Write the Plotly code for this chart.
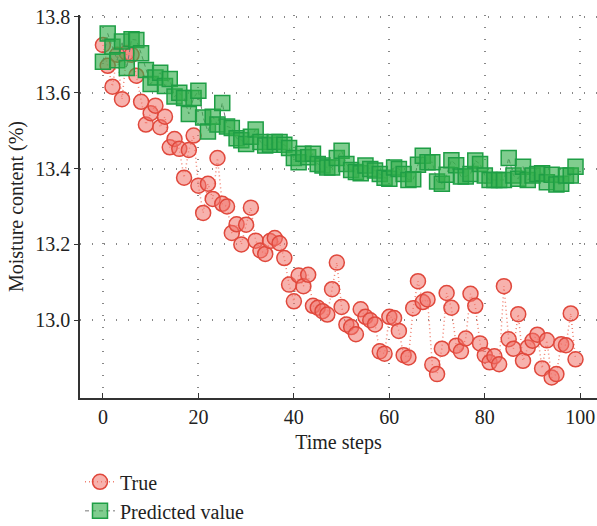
import plotly.graph_objects as go

time_steps = list(range(100))

true_values = [
    13.726, 13.671, 13.616, 13.700, 13.583, 13.705, 13.700, 13.645, 13.576, 13.516,
    13.546, 13.566, 13.509, 13.537, 13.456, 13.478, 13.452, 13.376, 13.449, 13.487,
    13.355, 13.283, 13.360, 13.320, 13.428, 13.307, 13.300, 13.230, 13.253, 13.200,
    13.252, 13.297, 13.210, 13.184, 13.175, 13.209, 13.217, 13.203, 13.164, 13.094,
    13.050, 13.118, 13.090, 13.120, 13.038, 13.033, 13.024, 13.015, 13.082, 13.152,
    13.035, 12.989, 12.982, 12.963, 13.029, 13.009, 13.000, 12.989, 12.918, 12.912,
    13.009, 13.006, 12.972, 12.908, 12.902, 13.032, 13.103, 13.048, 13.055, 12.883,
    12.858, 12.925, 13.072, 13.033, 12.933, 12.918, 12.952, 13.070, 13.038, 12.939,
    12.908, 12.889, 12.905, 12.884, 13.090, 12.950, 12.925, 13.016, 12.893, 12.928,
    12.946, 12.962, 12.873, 12.947, 12.849, 12.858, 12.937, 12.934, 13.018, 12.897,
]

predicted_values = [
    13.682, 13.756, 13.721, 13.686, 13.735, 13.665, 13.741, 13.739, 13.704, 13.660,
    13.623, 13.640, 13.653, 13.618, 13.636, 13.590, 13.600, 13.586, 13.544, 13.586,
    13.605, 13.535, 13.498, 13.537, 13.516, 13.573, 13.511, 13.507, 13.480, 13.475,
    13.465, 13.484, 13.503, 13.470, 13.461, 13.463, 13.470, 13.470, 13.463, 13.454,
    13.428, 13.417, 13.439, 13.430, 13.439, 13.412, 13.408, 13.403, 13.403, 13.428,
    13.447, 13.412, 13.396, 13.391, 13.388, 13.408, 13.399, 13.395, 13.386, 13.376,
    13.373, 13.403, 13.399, 13.386, 13.370, 13.372, 13.410, 13.434, 13.417, 13.417,
    13.366, 13.360, 13.384, 13.422, 13.409, 13.379, 13.379, 13.386, 13.421, 13.412,
    13.382, 13.370, 13.370, 13.370, 13.370, 13.428, 13.382, 13.373, 13.405, 13.370,
    13.382, 13.386, 13.388, 13.364, 13.384, 13.358, 13.360, 13.382, 13.382, 13.405,
]

x_ticks = [0, 20, 40, 60, 80, 100]
y_ticks = [13.0, 13.2, 13.4, 13.6, 13.8]
y_tick_labels = ["13.0", "13.2", "13.4", "13.6", "13.8"]

FONT = "Liberation Serif"

fig = go.Figure()
fig.add_trace(go.Scatter(
    x=time_steps, y=true_values, name="True", mode="lines+markers",
    line=dict(color="#F08070", width=1.5, dash="1px,3px"),
    marker=dict(symbol="circle", size=15, color="rgba(240,115,105,0.55)",
                line=dict(color="#E0483C", width=1.5)),
))
fig.add_trace(go.Scatter(
    x=time_steps, y=predicted_values, name="Predicted value", mode="lines+markers",
    line=dict(color="#777777", width=1, dash="4px,3px"),
    marker=dict(symbol="square", size=15, color="rgba(50,175,75,0.62)",
                line=dict(color="#1E9E45", width=1.5)),
))

grid = dict(showgrid=True, gridcolor="#888888", gridwidth=1.5, griddash="1px,11px")

fig.update_layout(
    width=597, height=526,
    margin=dict(l=80, r=0, t=15, b=128, autoexpand=False),
    plot_bgcolor="white", paper_bgcolor="white",
    font=dict(family=FONT, size=20, color="#222222"),
    showlegend=True,
    legend=dict(x=0.0, xanchor="left", y=-0.168, yanchor="top",
                font=dict(family=FONT, size=20, color="#222222"),
                tracegroupgap=0, itemsizing="trace", bgcolor="rgba(0,0,0,0)"),
    xaxis=dict(range=[-4.8, 103.5], tickvals=x_ticks, ticks="inside", ticklen=5,
               tickcolor="#333", showline=True, linecolor="#333", linewidth=1.5,
               zeroline=False, title=dict(text="Time steps", standoff=8,
                                          font=dict(family=FONT, size=20)),
               tickfont=dict(family=FONT, size=20), **grid),
    yaxis=dict(range=[12.795, 13.805], tickvals=y_ticks, ticktext=y_tick_labels,
               ticks="outside", ticklen=4, tickcolor="#333", showline=True,
               linecolor="#333", linewidth=1.5, zeroline=False,
               title=dict(text="Moisture content (%)", standoff=6,
                          font=dict(family=FONT, size=20)),
               tickfont=dict(family=FONT, size=20), **grid),
)

fig.write_html("out.html")
